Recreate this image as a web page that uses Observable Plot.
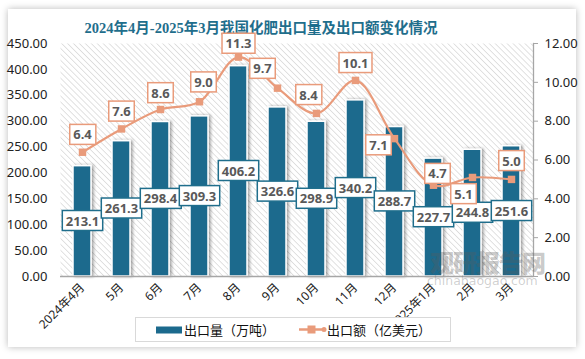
<!DOCTYPE html>
<html><head><meta charset="utf-8">
<script src="https://cdn.jsdelivr.net/npm/d3@7"></script>
<script src="https://cdn.jsdelivr.net/npm/@observablehq/plot@0.6"></script>
<style>
html,body{margin:0;padding:0;background:#fff;width:585px;height:359px;overflow:hidden;}
#card{position:absolute;left:8px;top:9px;width:568px;height:338px;background:#fff;box-shadow:0 0 7px rgba(0,0,0,0.28);}
#title{position:absolute;left:0;width:522px;top:18px;text-align:center;font-family:"Liberation Serif","Noto Sans CJK SC",serif;font-weight:bold;font-size:14.5px;color:#1f6e8c;line-height:20px;white-space:nowrap;}
#chart{position:absolute;left:0;top:30px;}
#legend{position:absolute;left:135px;top:317px;width:314px;height:23px;border:1px solid #d9d9d9;background:#fff;font-family:"Noto Sans CJK SC",sans-serif;font-size:13px;color:#111;}
.lg{position:absolute;top:3px;line-height:17px;white-space:nowrap;}
.wm1{position:absolute;left:430px;top:244px;font-family:"Noto Sans CJK SC",sans-serif;font-weight:900;font-size:24px;color:rgba(90,90,90,0.33);letter-spacing:-1px;white-space:nowrap;}
.wm2{position:absolute;left:427px;top:273px;font-family:"DejaVu Sans",sans-serif;font-size:12.5px;color:rgba(110,110,110,0.33);white-space:nowrap;}
</style></head>
<body>
<div id="card"></div>
<div id="title">2024年4月-2025年3月我国化肥出口量及出口额变化情况</div>
<div id="chart"></div>
<div id="legend">
  <svg class="lg" style="left:20px;top:8px" width="26" height="8"><rect x="0" y="0.5" width="26" height="7" fill="#1c6a8d"/></svg>
  <span class="lg" style="left:48px">出口量（万吨）</span>
  <svg class="lg" style="left:163px;top:6px" width="28" height="11"><line x1="0" y1="5.5" x2="26" y2="5.5" stroke="#e99b7b" stroke-width="2.5"/><rect x="8.5" y="1.5" width="8" height="8" fill="#e99b7b"/><circle cx="25" cy="5.5" r="2.5" fill="#e99b7b"/></svg>
  <span class="lg" style="left:191px">出口额（亿美元）</span>
</div>
<div class="wm1">观研报告网</div>
<div class="wm2">chinabaogao.com</div>
<script>
const months = ["2024年4月","5月","6月","7月","8月","9月","10月","11月","12月","2025年1月","2月","3月"];
const exportVolume = [213.1,261.3,298.4,309.3,406.2,326.6,298.9,340.2,288.7,227.7,244.8,251.6]; // 万吨
const exportValue = [6.4,7.6,8.6,9.0,11.3,9.7,8.4,10.1,7.1,4.7,5.1,5.0]; // 亿美元
const leftTicks = [0,50,100,150,200,250,300,350,400,450];
const rightTicks = [0,2,4,6,8,10,12];

const leftMax = 450, rightMax = 12;
const k = leftMax / rightMax;
const data = months.map((m, i) => ({month: m, volume: exportVolume[i], value: exportValue[i], scaled: exportValue[i] * k}));

// label placement tweaks (pixels) for line labels
const lineLabelOffsets = {
  "2024年4月": [0,-17], "5月": [0,-17], "6月": [0,-16], "7月": [4,-19], "8月": [0,-13],
  "9月": [-15,-19], "10月": [-8,-18], "11月": [0,-17], "12月": [-16,7],
  "2025年1月": [4,-11], "2月": [-9,17], "3月": [0,-18]
};

const barColor = "#1c6a8d", lineColor = "#e99b7b", labelColor = "#595959";

const defsMark = () => {
  const g = d3.create("svg:g");
  const defs = g.append("defs");
  const p = defs.append("pattern").attr("id","hatch").attr("patternUnits","userSpaceOnUse")
    .attr("width",4.2).attr("height",4.2).attr("patternTransform","rotate(-45)");
  p.append("rect").attr("width",4.2).attr("height",4.2).attr("fill","#fff");
  p.append("line").attr("x1",0).attr("y1",0).attr("x2",0).attr("y2",4.2).attr("stroke","#d2d2d2").attr("stroke-width",1.3);
  const f = defs.append("filter").attr("id","shadow").attr("x","-30%").attr("y","-10%").attr("width","170%").attr("height","130%");
  f.append("feDropShadow").attr("dx",2).attr("dy",0).attr("stdDeviation",1.5).attr("flood-color","#000").attr("flood-opacity",0.35);
  return g.node();
};

const lineLabelMarks = data.map(d => {
  const [dx, dy] = lineLabelOffsets[d.month];
  return Plot.text([d], {x: "month", y: "scaled", text: r => r.value.toFixed(1), dx, dy,
    fill: labelColor, fontWeight: "bold", fontSize: 13});
});

const chart = Plot.plot({
  width: 585, height: 290,
  marginLeft: 60, marginRight: 52, marginTop: 13, marginBottom: 44,
  style: {fontFamily: '"Noto Sans","Noto Sans CJK SC",sans-serif', fontSize: "13px", color: "#222", background: "transparent", overflow: "visible"},
  x: {type: "band", domain: months, paddingInner: 0.54, paddingOuter: 0.27, label: null},
  y: {domain: [0, leftMax], label: null},
  marks: [
    defsMark,
    Plot.frame({fill: "url(#hatch)", stroke: "none"}),
    Plot.barY(data, {x: "month", y: "volume", fill: barColor, stroke: "white", strokeWidth: 1.5}),
    Plot.ruleY([0], {stroke: "#a6a6a6", strokeWidth: 1.3}),
    Plot.frame({anchor: "right", stroke: "#a6a6a6", strokeWidth: 1.3}),
    Plot.axisY({anchor: "left", ticks: leftTicks, tickFormat: d => d.toFixed(2), tickSize: 0, tickPadding: 13, fontSize: 13, label: null}),
    Plot.axisY({anchor: "right", ticks: rightTicks.map(v => v * k), tickFormat: d => (d / k).toFixed(2), tickSize: 4, tickPadding: 7, stroke: "#a6a6a6", fontSize: 13, label: null}),
    Plot.axisX({tickRotate: -45, tickSize: 0, tickPadding: 9, fontSize: 12, label: null}),
    Plot.text(data, {x: "month", y: d => d.volume / 2, text: d => d.volume.toFixed(1), fill: labelColor, fontWeight: "bold", fontSize: 13}),
    Plot.line(data, {x: "month", y: "scaled", stroke: lineColor, strokeWidth: 2.2, curve: "catmull-rom"}),
    Plot.dot(data, {x: "month", y: "scaled", symbol: "square", r: 4.2, fill: lineColor, stroke: "none"}),
    ...lineLabelMarks
  ]
});
document.getElementById("chart").appendChild(chart);

const svg = d3.select(chart);
svg.selectAll('g[aria-label="bar"]').attr("filter", "url(#shadow)");
const textGroups = svg.selectAll('g[aria-label="text"]').nodes();
textGroups.forEach((g, gi) => {
  const border = gi === 0 ? "#1f6e8c" : lineColor;
  d3.select(g).selectAll("text").each(function() {
    const b = this.getBBox();
    const padX = 3.5, h = 20;
    d3.select(g).insert("rect", () => this)
      .attr("transform", this.getAttribute("transform"))
      .attr("x", b.x - padX).attr("y", b.y + b.height / 2 - h / 2)
      .attr("width", b.width + 2 * padX).attr("height", h)
      .attr("fill", "#fff").attr("stroke", border).attr("stroke-width", 1.5);
  });
});
</script>
</body></html>
